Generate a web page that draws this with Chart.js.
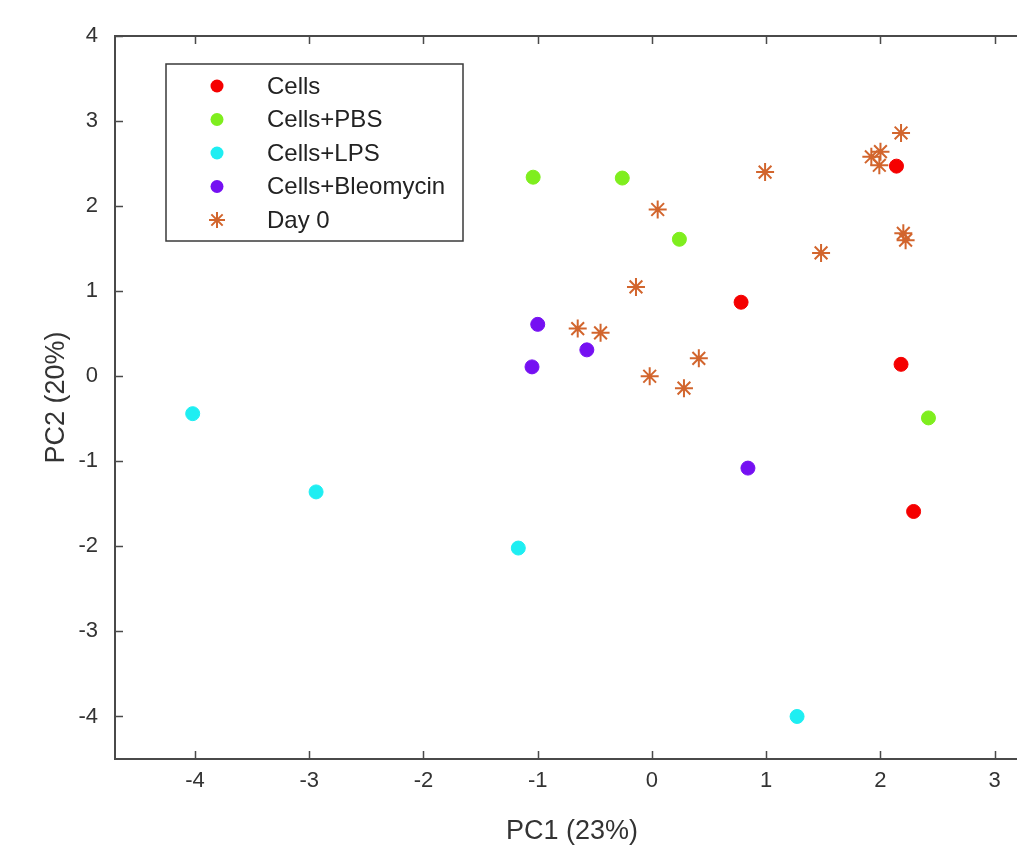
<!DOCTYPE html>
<html><head><meta charset="utf-8">
<script src="https://cdn.jsdelivr.net/npm/chart.js@4/dist/chart.umd.min.js"></script>
<style>
html,body{margin:0;padding:0;background:#fff;overflow:hidden;width:1017px;height:851px}
#wrap{width:1040px;height:851px;position:relative}
</style></head>
<body><div id="wrap"><canvas id="c" width="1040" height="851"></canvas></div>
<script>
// ---- data ----
const seriesNames = ['Cells', 'Cells+PBS', 'Cells+LPS', 'Cells+Bleomycin', 'Day 0'];
const cellsX = [2.14, 0.78, 2.18, 2.29];
const cellsY = [2.47, 0.87, 0.14, -1.59];
const pbsX = [-1.04, -0.26, 0.24, 2.42];
const pbsY = [2.34, 2.33, 1.61, -0.49];
const lpsX = [-4.02, -2.94, -1.17, 1.27];
const lpsY = [-0.44, -1.36, -2.02, -4.0];
const bleoX = [-1.0, -0.57, -1.05, 0.84];
const bleoY = [0.61, 0.31, 0.11, -1.08];
const day0X = [2.18, 1.92, 2.0, 1.99, 0.99, 0.05, 2.2, 2.22, 1.48, -0.14, -0.65, -0.45, 0.41, -0.02, 0.28];
const day0Y = [2.86, 2.58, 2.64, 2.48, 2.40, 1.96, 1.68, 1.60, 1.45, 1.05, 0.56, 0.51, 0.21, 0.0, -0.14];
const xTicks = [-4, -3, -2, -1, 0, 1, 2, 3];
const yTicks = [-4, -3, -2, -1, 0, 1, 2, 3, 4];
const xTitle = 'PC1 (23%)';
const yTitle = 'PC2 (20%)';

const pts = (xs, ys) => xs.map((x, i) => ({x: x, y: ys[i]}));
const FONT = "'Liberation Sans', Arial, sans-serif";
const AXIS_COLOR = '#4a4a4a';
const TEXT_COLOR = '#333333';

function dotDs(label, xs, ys, color) {
  return {label, data: pts(xs, ys), pointStyle: 'circle', pointRadius: 7,
    pointBackgroundColor: color, pointBorderColor: color, pointBorderWidth: 1, showLine: false};
}
const datasets = [
  dotDs(seriesNames[0], cellsX, cellsY, '#F50000'),
  dotDs(seriesNames[1], pbsX, pbsY, '#7FEE1E'),
  dotDs(seriesNames[2], lpsX, lpsY, '#1EEEF2'),
  dotDs(seriesNames[3], bleoX, bleoY, '#7510F2'),
  {label: seriesNames[4], data: pts(day0X, day0Y), pointStyle: 'star', pointRadius: 9,
   pointBackgroundColor: '#D2652D', pointBorderColor: '#D2652D', pointBorderWidth: 2, showLine: false}
];

const framePlugin = {
  id: 'frame',
  afterDraw(chart) {
    const ctx = chart.ctx, a = chart.chartArea;
    const xs = chart.scales.x, ys = chart.scales.y;
    ctx.save();
    ctx.strokeStyle = AXIS_COLOR;
    ctx.lineWidth = 2;
    ctx.strokeRect(a.left, a.top, a.right - a.left, a.bottom - a.top);
    ctx.lineWidth = 1.5;
    const L = 8;
    ctx.beginPath();
    xs.ticks.forEach(t => {
      const px = Math.round(xs.getPixelForValue(t.value)) + 0.5;
      ctx.moveTo(px, a.bottom); ctx.lineTo(px, a.bottom - L);
      ctx.moveTo(px, a.top); ctx.lineTo(px, a.top + L);
    });
    ys.ticks.forEach(t => {
      const py = Math.round(ys.getPixelForValue(t.value)) + 0.5;
      ctx.moveTo(a.left, py); ctx.lineTo(a.left + L, py);
      ctx.moveTo(a.right, py); ctx.lineTo(a.right - L, py);
    });
    ctx.stroke();

    // legend box
    const bx = 166, by = 64, bw = 297, bh = 177;
    ctx.fillStyle = '#fff';
    ctx.fillRect(bx, by, bw, bh);
    ctx.strokeStyle = '#3a3a3a';
    ctx.lineWidth = 1.5;
    ctx.strokeRect(bx, by, bw, bh);
    ctx.font = '24px ' + FONT;
    ctx.textBaseline = 'middle';
    ctx.textAlign = 'left';
    chart.data.datasets.forEach((ds, i) => {
      const cy = by + 22 + i * 33.5, cx = 217;
      ctx.fillStyle = ds.pointBackgroundColor;
      ctx.strokeStyle = ds.pointBorderColor;
      if (ds.pointStyle === 'star') {
        const r = 8;
        ctx.lineWidth = 2;
        ctx.beginPath();
        for (let k = 0; k < 4; k++) {
          const ang = k * Math.PI / 4;
          ctx.moveTo(cx - r * Math.cos(ang), cy - r * Math.sin(ang));
          ctx.lineTo(cx + r * Math.cos(ang), cy + r * Math.sin(ang));
        }
        ctx.stroke();
      } else {
        ctx.beginPath();
        ctx.arc(cx, cy, 6.5, 0, Math.PI * 2);
        ctx.fill();
      }
      ctx.fillStyle = '#222';
      ctx.fillText(ds.label, 267, cy + 1);
    });
    ctx.restore();
  }
};

new Chart(document.getElementById('c'), {
  type: 'scatter',
  data: {datasets},
  options: {
    responsive: false,
    animation: false,
    events: [],
    layout: {padding: {top: 36, right: 8, left: 0, bottom: 0}},
    plugins: {legend: {display: false}, tooltip: {enabled: false}},
    scales: {
      x: {
        type: 'linear', min: -4.7, max: 3.3,
        afterBuildTicks: s => { s.ticks = xTicks.map(v => ({value: v})); },
        afterFit: s => { s.height = 92; },
        grid: {display: false, drawTicks: false},
        border: {display: false},
        ticks: {font: {family: FONT, size: 22}, color: TEXT_COLOR, padding: 9, maxRotation: 0,
                callback: v => String(v)},
        title: {display: true, text: xTitle, font: {family: FONT, size: 27}, color: TEXT_COLOR,
                padding: {top: 0, bottom: 3}}
      },
      y: {
        type: 'linear', min: -4.5, max: 4,
        afterBuildTicks: s => { s.ticks = yTicks.map(v => ({value: v})); },
        afterFit: s => { s.width = 115; },
        grid: {display: false, drawTicks: false},
        border: {display: false},
        ticks: {font: {family: FONT, size: 22}, color: TEXT_COLOR, padding: 17,
                callback: v => String(v)},
        title: {display: true, text: yTitle, font: {family: FONT, size: 27}, color: TEXT_COLOR,
                padding: {top: 40, bottom: 0}}
      }
    }
  },
  plugins: [framePlugin]
});
</script>
</body></html>
